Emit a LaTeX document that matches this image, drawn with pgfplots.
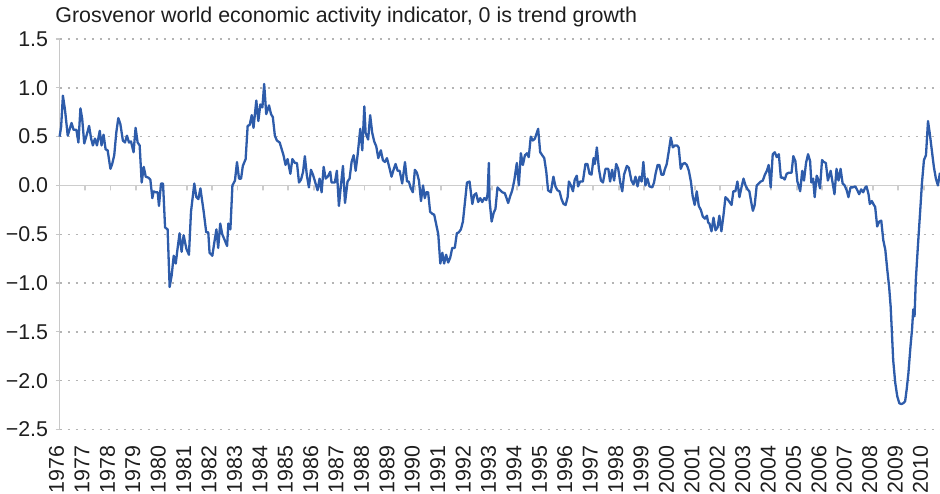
\documentclass[border=0pt]{standalone}
\usepackage{fontspec}
\setmainfont{Liberation Sans}
\usepackage{pgfplots}
\pgfplotsset{compat=1.18}
\definecolor{lineblue}{RGB}{46,92,170}
\definecolor{gridgray}{RGB}{180,180,180}
\definecolor{axisgray}{RGB}{200,200,200}
\definecolor{zerogray}{RGB}{205,205,205}
\definecolor{textgray}{RGB}{30,30,30}
\begin{document}
\fontsize{10.7}{12.8}\selectfont
\begin{tikzpicture}
\useasboundingbox (0,0) rectangle (470pt,246.5pt);
\begin{axis}[
  at={(29.8pt,31.75pt)}, anchor=south west,
  scale only axis, width=440.3pt, height=195.25pt,
  xmin=1976, xmax=2010.65, ymin=-2.5, ymax=1.5,
  axis x line*=bottom, axis y line*=left,
  x axis line style={draw=none},
  y axis line style={draw=axisgray, line width=0.8pt},
  xtick={1976,1977,...,2010},
  xtick style={draw=none},
  ytick={-2.5,-2,-1.5,-1,-0.5,0,0.5,1,1.5},
  yticklabels={−2.5,−2.0,−1.5,−1.0,−0.5,0.0,0.5,1.0,1.5},
  ytick style={draw=axisgray, line width=0.6pt},
  tick align=outside, major tick length=2pt,
  ymajorgrids,
  grid style={draw=gridgray, line width=0.7pt, dash pattern=on 1pt off 3pt},
  /pgf/number format/1000 sep={},
  /pgf/number format/assume math mode=true,
  xticklabel style={rotate=90, anchor=east, text=textgray, inner sep=0pt, xshift=-6pt, yshift=1.5pt},
  yticklabel style={text=textgray},
  clip=false,
]
% zero line with year tick marks
\addplot[draw=zerogray, line width=0.9pt, line join=miter] coordinates {
(1976,0)(1977,0)(1977,-0.05)(1977,0)(1978,0)(1978,-0.05)(1978,0)(1979,0)(1979,-0.05)(1979,0)
(1980,0)(1980,-0.05)(1980,0)(1981,0)(1981,-0.05)(1981,0)(1982,0)(1982,-0.05)(1982,0)
(1983,0)(1983,-0.05)(1983,0)(1984,0)(1984,-0.05)(1984,0)(1985,0)(1985,-0.05)(1985,0)
(1986,0)(1986,-0.05)(1986,0)(1987,0)(1987,-0.05)(1987,0)(1988,0)(1988,-0.05)(1988,0)
(1989,0)(1989,-0.05)(1989,0)(1990,0)(1990,-0.05)(1990,0)(1991,0)(1991,-0.05)(1991,0)
(1992,0)(1992,-0.05)(1992,0)(1993,0)(1993,-0.05)(1993,0)(1994,0)(1994,-0.05)(1994,0)
(1995,0)(1995,-0.05)(1995,0)(1996,0)(1996,-0.05)(1996,0)(1997,0)(1997,-0.05)(1997,0)
(1998,0)(1998,-0.05)(1998,0)(1999,0)(1999,-0.05)(1999,0)(2000,0)(2000,-0.05)(2000,0)
(2001,0)(2001,-0.05)(2001,0)(2002,0)(2002,-0.05)(2002,0)(2003,0)(2003,-0.05)(2003,0)
(2004,0)(2004,-0.05)(2004,0)(2005,0)(2005,-0.05)(2005,0)(2006,0)(2006,-0.05)(2006,0)
(2007,0)(2007,-0.05)(2007,0)(2008,0)(2008,-0.05)(2008,0)(2009,0)(2009,-0.05)(2009,0)
(2010,0)(2010,-0.05)(2010,0)(2010.65,0)
};
\addplot[draw=lineblue, line width=1.15pt, line join=round, no marks] coordinates {
(1976.00,0.50)(1976.06,0.60)(1976.13,0.92)(1976.21,0.78)(1976.32,0.51)(1976.40,0.58)(1976.47,0.64)(1976.55,0.57)(1976.66,0.57)(1976.74,0.44)(1976.82,0.79)(1976.89,0.68)(1976.97,0.43)
(1977.08,0.53)(1977.16,0.61)(1977.24,0.48)(1977.31,0.41)(1977.39,0.48)(1977.47,0.41)(1977.58,0.56)(1977.65,0.41)(1977.73,0.52)(1977.81,0.37)(1977.89,0.36)
(1978.00,0.17)(1978.07,0.22)(1978.15,0.31)(1978.23,0.54)(1978.31,0.69)(1978.39,0.63)(1978.49,0.46)(1978.57,0.44)(1978.65,0.51)(1978.73,0.44)(1978.81,0.45)(1978.91,0.34)(1978.99,0.59)
(1979.07,0.44)(1979.15,0.41)(1979.23,0.03)(1979.31,0.19)(1979.39,0.09)(1979.49,0.08)(1979.57,0.06)(1979.65,-0.13)(1979.70,-0.06)(1979.78,-0.07)(1979.86,-0.07)(1979.91,-0.21)(1979.99,0.02)
(1980.07,0.02)(1980.15,-0.43)(1980.25,-0.45)(1980.33,-1.04)(1980.41,-0.92)(1980.49,-0.72)(1980.57,-0.80)(1980.64,-0.65)(1980.72,-0.49)(1980.80,-0.68)(1980.88,-0.51)(1980.99,-0.65)
(1981.09,-0.71)(1981.17,-0.27)(1981.30,0.02)(1981.38,-0.12)(1981.46,-0.14)(1981.54,-0.03)(1981.67,-0.27)(1981.77,-0.48)(1981.85,-0.48)(1981.90,-0.69)
(1982.01,-0.72)(1982.09,-0.58)(1982.17,-0.45)(1982.24,-0.64)(1982.32,-0.39)(1982.40,-0.50)(1982.48,-0.55)(1982.59,-0.62)(1982.64,-0.39)(1982.72,-0.45)(1982.80,0.00)(1982.90,0.05)(1982.98,0.24)
(1983.06,0.07)(1983.14,0.07)(1983.21,0.20)(1983.32,0.27)(1983.40,0.61)(1983.48,0.62)(1983.56,0.72)(1983.63,0.59)(1983.74,0.87)(1983.82,0.66)(1983.90,0.83)(1983.98,0.80)
(1984.05,1.04)(1984.13,0.73)(1984.24,0.82)(1984.32,0.73)(1984.39,0.70)(1984.47,0.51)(1984.55,0.46)(1984.66,0.44)(1984.74,0.37)(1984.81,0.31)(1984.89,0.21)(1984.97,0.27)
(1985.08,0.12)(1985.16,0.27)(1985.26,0.23)(1985.34,0.23)(1985.42,0.03)(1985.50,0.06)(1985.58,0.14)(1985.65,0.30)(1985.73,0.10)(1985.81,-0.02)(1985.89,0.16)(1985.97,0.11)
(1986.05,0.04)(1986.15,-0.05)(1986.23,0.07)(1986.31,-0.07)(1986.39,0.19)(1986.47,0.07)(1986.55,0.09)(1986.65,0.14)(1986.70,0.03)(1986.83,0.03)(1986.91,0.15)(1986.99,-0.21)
(1987.07,0.00)(1987.15,0.20)(1987.23,-0.18)(1987.33,0.04)(1987.41,0.07)(1987.49,0.24)(1987.57,0.31)(1987.65,0.15)(1987.73,0.32)(1987.83,0.58)(1987.91,0.36)(1987.99,0.81)
(1988.04,0.54)(1988.14,0.47)(1988.22,0.72)(1988.30,0.54)(1988.38,0.45)(1988.46,0.40)(1988.54,0.28)(1988.64,0.36)(1988.72,0.26)(1988.80,0.24)(1988.88,0.28)(1988.96,0.20)
(1989.06,0.09)(1989.14,0.16)(1989.22,0.22)(1989.30,0.15)(1989.38,0.15)(1989.48,0.02)(1989.59,0.24)(1989.67,0.04)(1989.74,0.04)(1989.82,-0.03)(1989.90,-0.07)(1989.98,0.16)
(1990.06,0.13)(1990.14,0.05)(1990.22,-0.16)(1990.30,0.00)(1990.37,-0.13)(1990.43,-0.07)(1990.50,-0.07)(1990.58,-0.27)(1990.66,-0.29)(1990.74,-0.30)(1990.82,-0.40)(1990.90,-0.50)(1990.98,-0.80)
(1991.06,-0.69)(1991.13,-0.80)(1991.21,-0.71)(1991.29,-0.79)(1991.37,-0.74)(1991.45,-0.64)(1991.55,-0.64)(1991.63,-0.49)(1991.71,-0.48)(1991.79,-0.45)(1991.87,-0.37)(1991.95,-0.17)
(1992.03,0.03)(1992.13,0.04)(1992.24,-0.19)(1992.31,-0.10)(1992.39,-0.08)(1992.47,-0.17)(1992.55,-0.13)(1992.63,-0.17)(1992.71,-0.13)(1992.79,-0.15)(1992.84,-0.09)(1992.89,0.23)(1992.92,-0.16)
(1993.00,-0.37)(1993.08,-0.28)(1993.15,-0.24)(1993.23,-0.02)(1993.34,-0.05)(1993.42,-0.07)(1993.52,-0.08)(1993.65,-0.18)(1993.73,-0.11)(1993.81,-0.05)(1993.89,0.05)(1993.99,0.23)
(1994.07,0.00)(1994.15,0.33)(1994.23,0.21)(1994.31,0.31)(1994.39,0.33)(1994.46,0.29)(1994.54,0.50)(1994.62,0.46)(1994.70,0.48)(1994.78,0.54)(1994.83,0.58)(1994.91,0.34)(1994.99,0.31)
(1995.07,0.28)(1995.15,0.14)(1995.22,-0.05)(1995.33,-0.07)(1995.43,0.09)(1995.51,-0.01)(1995.59,-0.05)(1995.67,-0.06)(1995.75,-0.14)(1995.83,-0.19)(1995.91,-0.20)(1995.99,-0.12)
(1996.04,0.04)(1996.12,0.00)(1996.20,-0.06)(1996.27,0.06)(1996.35,0.10)(1996.40,-0.01)(1996.48,0.04)(1996.59,0.04)(1996.69,0.22)(1996.77,0.22)(1996.85,0.12)(1996.93,0.11)
(1997.01,0.28)(1997.06,0.22)(1997.14,0.39)(1997.22,0.17)(1997.30,0.05)(1997.38,0.03)(1997.48,0.17)(1997.59,0.17)(1997.66,0.04)(1997.74,0.16)(1997.82,0.05)(1997.90,0.22)(1997.98,0.17)
(1998.06,0.03)(1998.14,-0.06)(1998.21,0.11)(1998.32,0.20)(1998.40,0.18)(1998.50,0.05)(1998.58,0.01)(1998.66,0.09)(1998.74,-0.01)(1998.82,0.09)(1998.90,0.04)(1998.97,0.24)
(1999.05,0.00)(1999.13,0.07)(1999.21,-0.01)(1999.32,-0.02)(1999.39,0.03)(1999.45,0.12)(1999.53,0.21)(1999.60,0.21)(1999.68,0.11)(1999.76,0.11)(1999.81,0.16)(1999.89,0.22)(1999.97,0.35)
(2000.05,0.49)(2000.13,0.39)(2000.21,0.41)(2000.29,0.41)(2000.36,0.39)(2000.44,0.17)(2000.52,0.22)(2000.60,0.23)(2000.68,0.21)(2000.76,0.15)(2000.84,0.04)(2000.91,-0.11)(2000.99,-0.20)
(2001.07,-0.06)(2001.15,-0.21)(2001.23,-0.25)(2001.31,-0.32)(2001.39,-0.34)(2001.47,-0.31)(2001.52,-0.38)(2001.57,-0.39)(2001.65,-0.47)(2001.73,-0.33)(2001.81,-0.46)(2001.89,-0.43)(2001.96,-0.31)
(2002.04,-0.47)(2002.12,-0.31)(2002.20,-0.12)(2002.28,-0.14)(2002.36,-0.17)(2002.44,-0.20)(2002.51,-0.06)(2002.59,-0.06)(2002.67,0.04)(2002.75,-0.12)(2002.83,-0.02)(2002.91,0.07)(2002.99,0.00)
(2003.07,-0.04)(2003.14,-0.06)(2003.22,-0.18)(2003.28,-0.26)(2003.35,-0.20)(2003.43,0.00)(2003.51,0.02)(2003.59,0.04)(2003.67,0.05)(2003.75,0.11)(2003.83,0.15)(2003.90,0.21)(2003.98,-0.02)
(2004.06,0.32)(2004.14,0.34)(2004.22,0.29)(2004.30,0.32)(2004.38,0.08)(2004.46,0.08)(2004.53,0.06)(2004.61,0.12)(2004.69,0.13)(2004.80,0.13)(2004.87,0.30)(2004.95,0.25)
(2005.03,0.04)(2005.14,-0.06)(2005.22,0.15)(2005.29,0.05)(2005.37,0.23)(2005.45,0.32)(2005.53,0.25)(2005.58,0.03)(2005.65,0.07)(2005.71,-0.12)(2005.79,0.10)(2005.84,0.07)(2005.92,-0.03)
(2006.00,0.26)(2006.07,0.24)(2006.15,0.23)(2006.23,0.05)(2006.34,0.15)(2006.42,0.02)(2006.49,-0.09)(2006.57,0.17)(2006.65,0.05)(2006.73,0.17)(2006.81,0.02)(2006.89,0.00)(2006.97,-0.05)
(2007.04,-0.12)(2007.12,-0.02)(2007.20,-0.02)(2007.31,-0.01)(2007.39,-0.05)(2007.46,-0.09)(2007.54,-0.04)(2007.62,-0.07)(2007.70,-0.02)(2007.75,-0.01)(2007.83,-0.09)(2007.88,-0.19)(2007.96,-0.16)
(2008.04,-0.20)(2008.09,-0.22)(2008.17,-0.42)(2008.25,-0.37)(2008.33,-0.36)(2008.41,-0.56)(2008.49,-0.66)(2008.57,-0.87)(2008.64,-1.04)(2008.70,-1.24)(2008.75,-1.51)(2008.80,-1.79)(2008.88,-2.02)(2008.96,-2.16)
(2009.04,-2.23)(2009.12,-2.24)(2009.20,-2.23)(2009.27,-2.21)(2009.33,-2.09)(2009.40,-1.92)(2009.48,-1.65)(2009.54,-1.48)(2009.59,-1.27)(2009.64,-1.34)(2009.69,-0.97)(2009.77,-0.63)(2009.82,-0.43)(2009.88,-0.19)(2009.93,0.02)
(2010.01,0.26)(2010.09,0.31)(2010.17,0.66)(2010.24,0.53)(2010.32,0.36)(2010.40,0.19)(2010.48,0.07)(2010.56,0.00)(2010.64,0.13)
};
\node[anchor=base west, inner sep=0pt, text=textgray] at (rel axis cs:0,1) [xshift=-2.3pt, yshift=8.5pt] {Grosvenor world economic activity indicator, 0 is trend growth};
\end{axis}
\end{tikzpicture}
\end{document}
